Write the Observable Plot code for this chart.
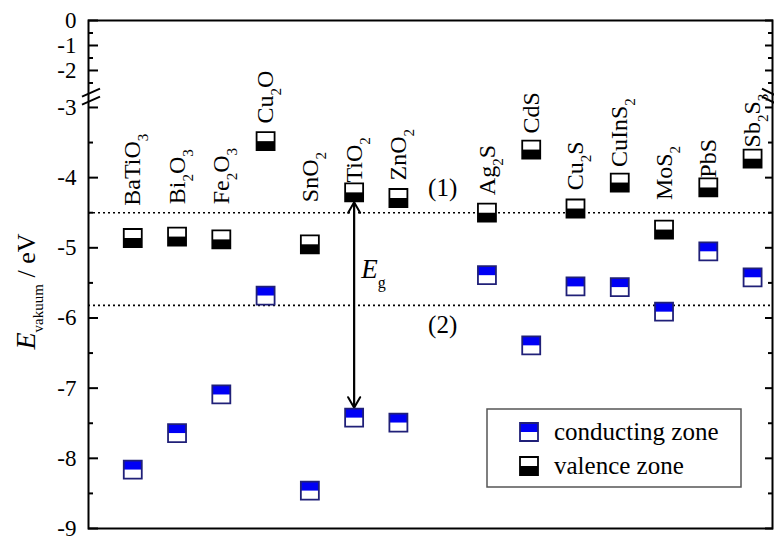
<!DOCTYPE html>
<html>
<head>
<meta charset="utf-8">
<script src="https://cdn.jsdelivr.net/npm/d3@7"></script>
<script src="https://cdn.jsdelivr.net/npm/@observablehq/plot@0.6"></script>
<style>
  body { margin: 0; background: #fff; }
  svg { display: block; font-family: "Liberation Serif", "Times New Roman", serif; }
  svg text { font-family: "Liberation Serif", "Times New Roman", serif; }
</style>
</head>
<body>
<div id="chart"></div>
<script>
// ---- data ----
const materials  = ["BaTiO3","Bi2O3","Fe2O3","Cu2O","SnO2","TiO2","ZnO2","Ag2S","CdS","Cu2S","CuInS2","MoS2","PbS","Sb2S3"];
const slots      = [1, 2, 3, 4, 5, 6, 7, 9, 10, 11, 12, 13, 14, 15];
const valence    = [-4.86, -4.84, -4.88, -3.48, -4.95, -4.21, -4.29, -4.50, -3.60, -4.44, -4.07, -4.74, -4.14, -3.73];
const conducting = [-8.16, -7.64, -7.09, -5.68, -8.46, -7.42, -7.49, -5.39, -6.39, -5.55, -5.56, -5.91, -5.05, -5.42];
const labelStart = [-4.40, -4.38, -4.38, -3.23, -4.35, -4.07, -4.04, -4.25, -3.37, -4.18, -3.85, -4.32, -4.00, -3.57];
const majorTicks = [0, -1, -2, -3, -4, -5, -6, -7, -8, -9];
const minorTicks = [-0.5, -1.5, -2.5, -3.5, -4.5, -5.5, -6.5, -7.5, -8.5];
const levelNames  = ["(1)", "(2)"];
const levelValues = [-4.50, -5.82];
const levelLabelY = [-4.15, -6.10];
const levelSlot   = 8;
const gapMaterial = "TiO2";
const gapLabelY   = -5.31;
const breakAt     = -2.84;
const legendNames = ["conducting zone", "valence zone"];

const BLUE = "#0000f5", NAVY = "#202078";
const FONT = '"Liberation Serif", "Times New Roman", serif';

// broken axis: 0 … -2.7 compressed, -3 … -9 linear
const BREAK_HI = -2.7, BREAK_LO = -3, GAP = 0.2778, UPPER = 0.3561;
function brokenY(v) {
  if (v <= BREAK_LO) return v;
  if (v <= BREAK_HI) return BREAK_LO + (v - BREAK_LO) / (BREAK_HI - BREAK_LO) * GAP;
  return BREAK_LO + GAP + (v - BREAK_HI) * UPPER;
}

const rows = materials.map((m, i) => ({m, slot: slots[i], v: valence[i], c: conducting[i], ly: labelStart[i]}));
const levels = levelNames.map((name, i) => ({name, value: levelValues[i], ly: levelLabelY[i], slot: levelSlot}));
const gapRow = rows.filter(d => d.m === gapMaterial);

// custom half-square symbols
const sq = size => Math.sqrt(size / Math.PI);
const topHalf    = {draw(ctx, size) { const s = sq(size); ctx.rect(-s, -s, 2 * s, s); }};
const bottomHalf = {draw(ctx, size) { const s = sq(size); ctx.rect(-s, 0, 2 * s, s); }};
const fullSquare = {draw(ctx, size) { const s = sq(size); ctx.rect(-s, -s, 2 * s, 2 * s); }};
const R = 9;
const noText = () => "";

const chart = Plot.plot({
  width: 774,
  height: 537,
  marginLeft: 88,
  marginRight: 2,
  marginTop: 20,
  marginBottom: 9,
  style: `font-family: ${FONT}; background: #fff; color: #000;`,
  x: {domain: [0, 15.45], axis: null},
  y: {type: "linear", transform: brokenY, domain: [-9, brokenY(0)], range: [528, 20], axis: null},
  marks: [
    Plot.ruleY(levels, {y: "value", stroke: "#000", strokeWidth: 1.6, strokeDasharray: "2,3"}),
    Plot.frame({stroke: "#000", strokeWidth: 2}),
    Plot.axisY(majorTicks, {anchor: "left", tickSize: -10, tickFormat: noText, strokeWidth: 2, label: null}),
    Plot.axisY(minorTicks, {anchor: "left", tickSize: -5, tickFormat: noText, strokeWidth: 2, label: null}),
    Plot.axisY(majorTicks, {anchor: "left", tickSize: 0, tickPadding: 12, tickFormat: d => String(d), fontSize: 23, fontFamily: FONT, label: null}),
    Plot.axisY(majorTicks, {anchor: "right", tickSize: -8, tickFormat: noText, strokeWidth: 2, label: null}),
    Plot.axisY(minorTicks, {anchor: "right", tickSize: -5, tickFormat: noText, strokeWidth: 2, label: null}),
    // band gap arrows
    Plot.arrow(gapRow, {x1: "slot", x2: "slot", y1: "v", y2: "c", insetStart: 10, insetEnd: 10, headLength: 9, strokeWidth: 2, stroke: "#000"}),
    Plot.arrow(gapRow, {x1: "slot", x2: "slot", y1: "c", y2: "v", insetStart: 10, insetEnd: 10, headLength: 9, strokeWidth: 2, stroke: "#000"}),
    // valence markers
    Plot.dot(rows, {x: "slot", y: "v", symbol: fullSquare, r: R, fill: "#fff", stroke: null}),
    Plot.dot(rows, {x: "slot", y: "v", symbol: bottomHalf, r: R, fill: "#000", stroke: null}),
    Plot.dot(rows, {x: "slot", y: "v", symbol: fullSquare, r: R, fill: "none", stroke: "#000", strokeWidth: 1.8}),
    // conducting markers
    Plot.dot(rows, {x: "slot", y: "c", symbol: fullSquare, r: R, fill: "#fff", stroke: null}),
    Plot.dot(rows, {x: "slot", y: "c", symbol: topHalf, r: R, fill: BLUE, stroke: null}),
    Plot.dot(rows, {x: "slot", y: "c", symbol: fullSquare, r: R, fill: "none", stroke: NAVY, strokeWidth: 1.8}),
    // material labels
    Plot.text(rows, {x: "slot", y: "ly", text: "m", rotate: -90, textAnchor: "start", lineAnchor: "middle", fontSize: 24, fontFamily: FONT, fill: "#000"}),
    // level labels
    Plot.text(levels, {x: "slot", y: "ly", text: "name", fontSize: 25, fontFamily: FONT, fill: "#000"}),
    // band gap label
    Plot.text(gapRow, {x: "slot", y: () => gapLabelY, text: () => "Eg", textAnchor: "start", dx: 7, fontSize: 27, fontFamily: FONT, fill: "#000"}),
    // y title
    Plot.text(["Evakuum / eV"], {frameAnchor: "left", text: d => d, rotate: -90, textAnchor: "middle", lineAnchor: "middle", dx: -62, dy: 17, fontSize: 26, fontFamily: FONT, fill: "#000"})
  ]
});

document.getElementById("chart").appendChild(chart);

// ---- rich text (subscripts / italics) ----
const svg = d3.select(chart);
const nameSet = new Set(materials);
svg.selectAll("text").each(function () {
  const t = this.textContent;
  const sel = d3.select(this);
  if (nameSet.has(t)) {
    sel.text(null);
    const parts = t.match(/\d+|\D+/g);
    let prevSub = false;
    parts.forEach(p => {
      const sub = /\d/.test(p);
      const ts = sel.append("tspan").text(p);
      if (sub) { ts.attr("font-size", 15).attr("dy", 8); prevSub = true; }
      else if (prevSub) { ts.attr("dy", -8); prevSub = false; }
    });
  } else if (t === "Eg") {
    sel.text(null);
    sel.append("tspan").attr("font-style", "italic").text("E");
    sel.append("tspan").attr("font-size", 16).attr("dy", 10).text("g");
  } else if (t === "Evakuum / eV") {
    sel.text(null);
    sel.append("tspan").attr("font-style", "italic").attr("font-size", 28).text("E");
    sel.append("tspan").attr("font-size", 15).attr("dy", 8).text("vakuum");
    sel.append("tspan").attr("dy", -8).text(" / eV");
  }
});

// ---- axis break marks ----
const yS = chart.scale("y");
const yPix = v => (Math.abs(yS.apply(0) - 20) < 1 ? yS.apply(v) : yS.apply(brokenY(v)));
const yb = yPix(breakAt);
const breaks = svg.append("g").attr("stroke", "#000").attr("stroke-width", 2);
[-4, 4].forEach(o => {
  breaks.append("line").attr("x1", 82).attr("y1", yb + o + 4).attr("x2", 100).attr("y2", yb + o - 4);
  breaks.append("line").attr("x1", 762).attr("y1", yb + o - 4).attr("x2", 776).attr("y2", yb + o + 3);
});

// ---- legend ----
const lg = svg.append("g").attr("text-anchor", "start").style("font-family", FONT);
lg.append("rect").attr("x", 487).attr("y", 409).attr("width", 254).attr("height", 78)
  .attr("fill", "#fff").attr("stroke", "#555").attr("stroke-width", 1.5);
const symPath = (sym) => d3.symbol(sym, R * R * Math.PI)();
const legendY = [432, 466];
lg.append("path").attr("transform", `translate(529,${legendY[0]})`).attr("d", symPath(fullSquare)).attr("fill", "#fff");
lg.append("path").attr("transform", `translate(529,${legendY[0]})`).attr("d", symPath(topHalf)).attr("fill", BLUE);
lg.append("path").attr("transform", `translate(529,${legendY[0]})`).attr("d", symPath(fullSquare)).attr("fill", "none").attr("stroke", NAVY).attr("stroke-width", 1.8);
lg.append("path").attr("transform", `translate(529,${legendY[1]})`).attr("d", symPath(fullSquare)).attr("fill", "#fff");
lg.append("path").attr("transform", `translate(529,${legendY[1]})`).attr("d", symPath(bottomHalf)).attr("fill", "#000");
lg.append("path").attr("transform", `translate(529,${legendY[1]})`).attr("d", symPath(fullSquare)).attr("fill", "none").attr("stroke", "#000").attr("stroke-width", 1.8);
legendNames.forEach((n, i) => {
  lg.append("text").attr("x", 554).attr("y", legendY[i]).attr("dy", "0.32em")
    .attr("font-size", 25).attr("fill", "#000").text(n);
});
</script>
</body>
</html>
